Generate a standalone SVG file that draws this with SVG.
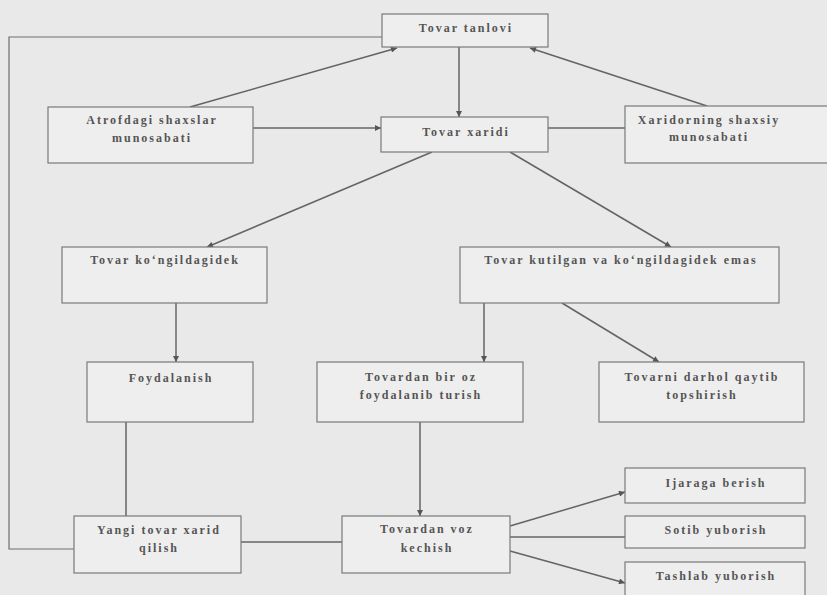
<svg xmlns="http://www.w3.org/2000/svg" width="827" height="595" viewBox="0 0 827 595">
<style>
.bg{fill:#e9e9e9}
.box{fill:#eeeeee;stroke:#7a7a7a;stroke-width:1.2}
.t{font-family:"Liberation Serif","Times New Roman",serif;font-weight:bold;font-size:12px;letter-spacing:2px;fill:#555555;text-anchor:middle}
.c{fill:none;stroke:#646464;stroke-width:1.5}
.loop{fill:none;stroke:#6e6e6e;stroke-width:1.2}
</style>
<defs>
<marker id="ah" viewBox="0 0 10 10" refX="10" refY="5" markerWidth="7" markerHeight="6" markerUnits="userSpaceOnUse" orient="auto">
<path d="M0,0 L10,5 L0,10 z" fill="#555"/>
</marker>
</defs>
<rect class="bg" x="0" y="0" width="827" height="595"/>
<g id="connectors">
<polyline class="loop" points="382,37 9,37 9,549 74,549"/>
<line class="c" x1="190" y1="107" x2="397" y2="48" marker-end="url(#ah)"/>
<line class="c" x1="707" y1="106" x2="530" y2="48" marker-end="url(#ah)"/>
<line class="c" x1="459" y1="47" x2="459" y2="117" marker-end="url(#ah)"/>
<line class="c" x1="253" y1="128" x2="381" y2="128" marker-end="url(#ah)"/>
<line class="c" x1="548" y1="128" x2="625" y2="128"/>
<line class="c" x1="432" y1="152" x2="207" y2="247" marker-end="url(#ah)"/>
<line class="c" x1="510" y1="152" x2="671" y2="247" marker-end="url(#ah)"/>
<line class="c" x1="176" y1="303" x2="176" y2="362" marker-end="url(#ah)"/>
<line class="c" x1="484" y1="303" x2="484" y2="362" marker-end="url(#ah)"/>
<line class="c" x1="562" y1="303" x2="659" y2="362" marker-end="url(#ah)"/>
<line class="c" x1="126" y1="422" x2="126" y2="516"/>
<line class="c" x1="420" y1="422" x2="420" y2="516" marker-end="url(#ah)"/>
<line class="c" x1="241" y1="542" x2="342" y2="542"/>
<line class="c" x1="510" y1="526" x2="625" y2="492" marker-end="url(#ah)"/>
<line class="c" x1="510" y1="537" x2="625" y2="537"/>
<line class="c" x1="510" y1="551" x2="625" y2="583" marker-end="url(#ah)"/>
</g>
<g id="tovar-tanlovi"><rect class="box" x="382" y="14" width="166" height="33"/><text class="t" x="466" y="32">Tovar tanlovi</text></g>
<g id="atrofdagi"><rect class="box" x="48" y="107" width="205" height="56"/><text class="t" x="152" y="124">Atrofdagi shaxslar</text><text class="t" x="152" y="142">munosabati</text></g>
<g id="tovar-xaridi"><rect class="box" x="381" y="117" width="167" height="35"/><text class="t" x="466" y="136">Tovar xaridi</text></g>
<g id="xaridorning"><rect class="box" x="625" y="106" width="210" height="57"/><text class="t" x="709" y="124">Xaridorning shaxsiy</text><text class="t" x="709" y="141">munosabati</text></g>
<g id="kongildagidek"><rect class="box" x="62" y="247" width="205" height="56"/><text class="t" x="165" y="264">Tovar ko‘ngildagidek</text></g>
<g id="kutilgan"><rect class="box" x="460" y="247" width="319" height="56"/><text class="t" x="621" y="264">Tovar kutilgan va ko‘ngildagidek emas</text></g>
<g id="foydalanish"><rect class="box" x="87" y="362" width="166" height="60"/><text class="t" x="171" y="382">Foydalanish</text></g>
<g id="bir-oz"><rect class="box" x="317" y="362" width="206" height="60"/><text class="t" x="421" y="381">Tovardan bir oz</text><text class="t" x="421" y="399">foydalanib turish</text></g>
<g id="qaytib"><rect class="box" x="599" y="362" width="205" height="60"/><text class="t" x="702" y="381">Tovarni darhol qaytib</text><text class="t" x="702" y="399">topshirish</text></g>
<g id="yangi"><rect class="box" x="74" y="516" width="167" height="57"/><text class="t" x="159" y="534">Yangi tovar xarid</text><text class="t" x="159" y="552">qilish</text></g>
<g id="voz-kechish"><rect class="box" x="342" y="516" width="168" height="57"/><text class="t" x="427" y="533">Tovardan voz</text><text class="t" x="427" y="552">kechish</text></g>
<g id="ijaraga"><rect class="box" x="625" y="468" width="180" height="35"/><text class="t" x="716" y="487">Ijaraga berish</text></g>
<g id="sotib"><rect class="box" x="625" y="516" width="180" height="32"/><text class="t" x="716" y="534">Sotib yuborish</text></g>
<g id="tashlab"><rect class="box" x="625" y="562" width="180" height="45"/><text class="t" x="716" y="580">Tashlab yuborish</text></g>
</svg>
